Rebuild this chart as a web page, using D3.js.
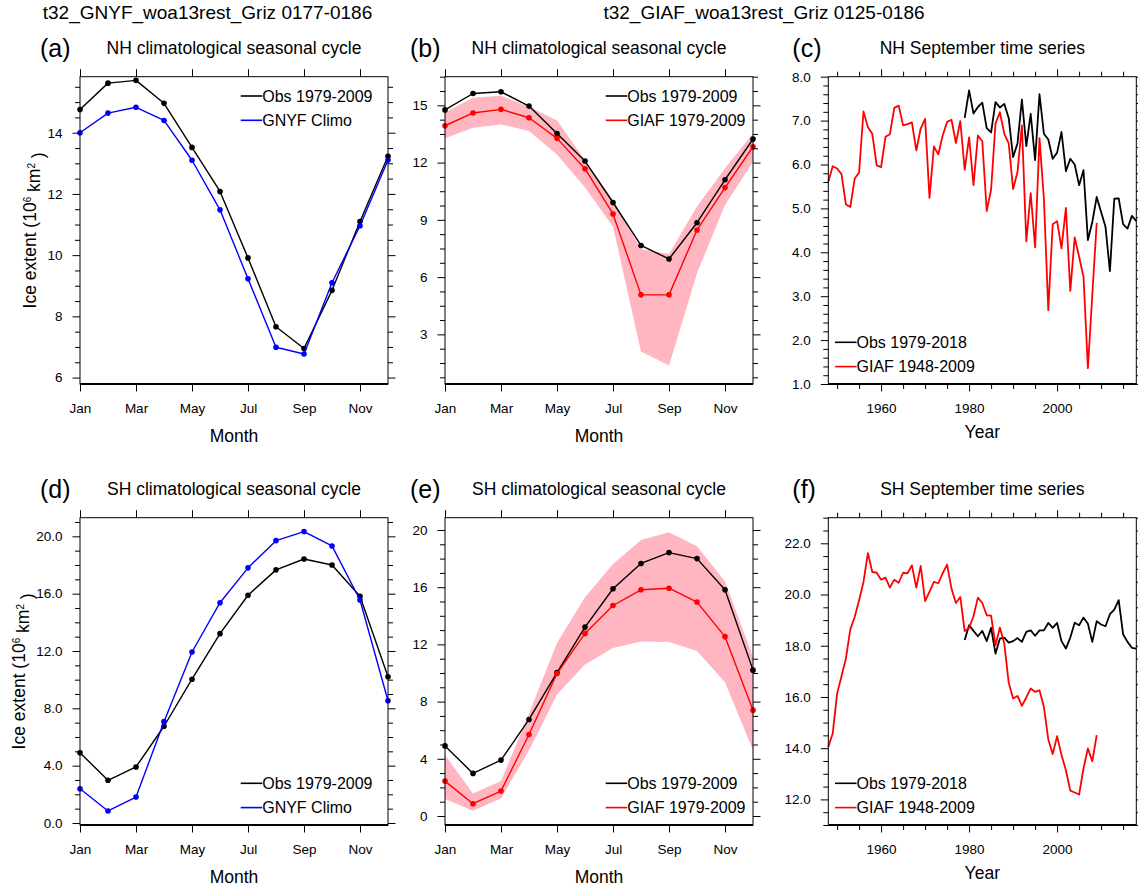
<!DOCTYPE html>
<html>
<head>
<meta charset="utf-8">
<script src="https://cdn.jsdelivr.net/npm/d3@7"></script>
<style>
body { margin: 0; background: #fff; }
text { font-family: "Liberation Sans", Arial, Helvetica, sans-serif; fill: #000; }
</style>
</head>
<body>
<div id="chart"></div>
<script>
// months
var monthNum = [1, 2, 3, 4, 5, 6, 7, 8, 9, 10, 11, 12];
var monthTicks = [1, 3, 5, 7, 9, 11];
var monthLabels = ["Jan", "Mar", "May", "Jul", "Sep", "Nov"];

// NH climatology (10^6 km^2)
var nhObs    = [14.76, 15.62, 15.71, 14.96, 13.52, 12.08, 9.91, 7.66, 6.95, 8.85, 11.10, 13.23];
var nhGnyf   = [14.00, 14.64, 14.83, 14.40, 13.10, 11.48, 9.23, 6.99, 6.77, 9.10, 10.96, 13.11];
var nhGiaf   = [13.93, 14.60, 14.79, 14.35, 13.27, 11.68, 9.31, 5.07, 5.07, 8.47, 10.69, 12.83];
var nhGiafHi = [14.62, 15.40, 15.50, 14.93, 14.20, 12.12, 10.04, 7.46, 7.21, 9.70, 11.70, 13.53];
var nhGiafLo = [13.27, 13.83, 14.00, 13.65, 12.43, 10.69, 8.64, 2.10, 1.37, 6.20, 9.78, 12.05];

// SH climatology
var shObs    = [4.90, 2.98, 3.91, 6.75, 10.03, 13.21, 15.89, 17.66, 18.42, 18.00, 15.82, 10.20];
var shGnyf   = [2.39, 0.84, 1.81, 7.07, 11.93, 15.37, 17.80, 19.70, 20.33, 19.33, 15.56, 8.53];
var shGiaf   = [2.44, 0.86, 1.74, 5.70, 9.96, 12.77, 14.72, 15.82, 15.93, 14.96, 12.54, 7.40];
var shGiafHi = [4.26, 1.58, 2.44, 7.16, 12.10, 15.30, 17.63, 19.30, 19.84, 18.86, 16.40, 11.12];
var shGiafLo = [1.19, 0.37, 1.23, 4.60, 8.49, 10.60, 11.75, 12.20, 12.16, 11.53, 9.35, 4.60];

// September time series
var giafYears = d3.range(1948, 2010);
var obsYears = d3.range(1979, 2019);
var yearTicks = [1960, 1980, 2000];

var nhSepGiaf = [5.60, 5.96, 5.91, 5.78, 5.09, 5.03, 5.68, 5.82, 7.21, 6.85,
  6.70, 5.98, 5.94, 6.63, 6.69, 7.29, 7.34, 6.89, 6.92, 6.96,
  6.32, 6.82, 7.04, 5.24, 6.41, 6.23, 6.66, 6.97, 7.02, 6.49,
  6.99, 5.88, 6.62, 5.53, 6.66, 6.53, 4.94, 5.43, 6.93, 7.19,
  6.70, 6.48, 5.44, 5.83, 6.89, 4.25, 5.35, 4.11, 6.60, 5.22,
  2.68, 4.64, 4.71, 4.09, 5.01, 3.12, 4.34, 3.90, 3.44, 1.36,
  3.03, 4.67];
var nhSepObs = [7.06, 7.69, 7.16, 7.31, 7.41, 6.83, 6.73, 7.42, 7.30, 7.38,
  7.06, 6.17, 6.48, 7.48, 6.42, 7.15, 6.10, 7.60, 6.70, 6.57,
  6.13, 6.27, 6.74, 5.85, 6.13, 6.00, 5.53, 5.87, 4.28, 4.69,
  5.26, 4.92, 4.58, 3.57, 5.22, 5.23, 4.64, 4.54, 4.83, 4.71];
var shSepGiaf = [14.05, 14.57, 16.13, 16.81, 17.50, 18.64, 19.12, 19.78, 20.49, 21.62,
  20.88, 20.85, 20.58, 20.66, 20.27, 20.58, 20.46, 20.85, 20.83, 21.14,
  20.27, 21.12, 19.74, 20.11, 20.49, 20.44, 20.83, 21.17, 20.23, 19.67,
  19.90, 18.57, 18.70, 19.15, 19.88, 19.67, 19.19, 19.18, 18.02, 18.71,
  18.08, 16.56, 15.94, 16.04, 15.65, 15.98, 16.33, 16.20, 16.26, 15.61,
  14.34, 13.77, 14.47, 13.73, 13.14, 12.34, 12.27, 12.19, 13.21, 13.99,
  13.49, 14.51];
var shSepObs = [18.22, 18.80, 18.58, 18.37, 18.58, 18.18, 18.70, 17.69, 18.28, 18.32,
  18.12, 18.18, 18.30, 18.15, 18.54, 18.60, 18.39, 18.60, 18.60, 18.89,
  18.70, 18.89, 18.18, 17.89, 18.32, 18.90, 18.80, 19.10, 18.86, 18.15,
  18.96, 18.83, 18.76, 19.23, 19.41, 19.78, 18.45, 18.15, 17.92, 17.89];

var W = 308, H = 307.3;
var BLACK = "#000", BLUE = "#0000ff", RED = "#ff0000", PINK = "#ffb6c1";

var svg = d3.select("#chart").append("svg")
  .attr("width", 1138)
  .attr("height", 888);

svg.append("text").attr("x", 207.5).attr("y", 18.5)
  .attr("text-anchor", "middle").style("font-size", "19px")
  .text("t32_GNYF_woa13rest_Griz 0177-0186");
svg.append("text").attr("x", 764).attr("y", 18.5)
  .attr("text-anchor", "middle").style("font-size", "19px")
  .text("t32_GIAF_woa13rest_Griz 0125-0186");

function range(a, b, s) {
  // tick positions inside the axis domain
  var out = [];
  for (var v = a; v <= b + 1e-9; v += s) out.push(+v.toFixed(4));
  return out;
}

function panel(p) {
  var g = svg.append("g").attr("transform", "translate(" + p.left + "," + p.top + ")");
  var x = d3.scaleLinear().domain(p.xDomain).range([0, W]);
  var y = d3.scaleLinear().domain(p.yDomain).range([H, 0]);

  if (p.band) {
    var bd = p.band.x.map(function(d, i) { return [d, p.band.lo[i], p.band.hi[i]]; });
    g.append("path").datum(bd)
      .attr("d", d3.area().x(function(d) { return x(d[0]); })
        .y0(function(d) { return y(d[1]); })
        .y1(function(d) { return y(d[2]); }))
      .attr("fill", PINK);
  }

  p.series.forEach(function(s) {
    var pts = s.x.map(function(d, i) { return [d, s.y[i]]; });
    g.append("path").datum(pts)
      .attr("d", d3.line().x(function(d) { return x(d[0]); }).y(function(d) { return y(d[1]); }))
      .attr("fill", "none")
      .attr("stroke", s.color)
      .attr("stroke-width", s.width)
      .attr("stroke-linejoin", "round");
    if (s.markers) {
      g.selectAll(null).data(pts).enter().append("circle")
        .attr("cx", function(d) { return x(d[0]); })
        .attr("cy", function(d) { return y(d[1]); })
        .attr("r", 2.8)
        .attr("fill", s.color);
    }
  });

  // axes: major + minor ticks on all four sides, all outward
  var yMinor = range(p.yMinor[0], p.yDomain[1], p.yMinor[1]).filter(function(v) {
    return v >= p.yDomain[0] && p.yMajor.indexOf(v) < 0;
  });
  var xMinor = p.xMinor ? range(p.xMinor[0], p.xDomain[1], p.xMinor[1]).filter(function(v) {
    return p.xMajor.indexOf(v) < 0;
  }) : [];

  function axis(gen, scale, vals, size, fmt, pad, tr) {
    var a = g.append("g").attr("transform", tr || null)
      .call(gen(scale).tickValues(vals).tickSizeInner(size).tickSizeOuter(0)
        .tickPadding(pad).tickFormat(fmt || ""));
    a.select(".domain").remove();
    a.selectAll("line").attr("stroke", BLACK).attr("stroke-width", 1);
    a.selectAll("text").attr("fill", BLACK).style("font-size", "13.5px")
      .style("font-family", '"Liberation Sans", Arial, sans-serif');
    return a;
  }

  axis(d3.axisLeft, y, p.yMajor, 7.5, p.yFormat, 10);
  axis(d3.axisLeft, y, yMinor, 5);
  axis(d3.axisRight, y, p.yMajor, 7.5, null, 4, "translate(" + W + ",0)");
  axis(d3.axisRight, y, yMinor, 5, null, 4, "translate(" + W + ",0)");
  axis(d3.axisBottom, x, p.xMajor, 7.5, function(d, i) { return p.xLabels[i]; }, 12, "translate(0," + H + ")");
  axis(d3.axisTop, x, p.xMajor, 7.5);
  if (xMinor.length) {
    axis(d3.axisBottom, x, xMinor, 5, null, 4, "translate(0," + H + ")");
    axis(d3.axisTop, x, xMinor, 5);
  }

  // frame
  g.append("rect").attr("width", W).attr("height", H)
    .attr("fill", "none").attr("stroke", BLACK).attr("stroke-width", 1);
  g.append("line").attr("x1", 0).attr("x2", W).attr("y1", H).attr("y2", H)
    .attr("stroke", BLACK).attr("stroke-width", 2.2);

  // titles
  g.append("text").attr("x", p.labelX).attr("y", -20)
    .style("font-size", "25px").text(p.label);
  g.append("text").attr("x", W / 2).attr("y", -22.5)
    .attr("text-anchor", "middle").style("font-size", "17.5px").text(p.title);
  g.append("text").attr("x", W / 2).attr("y", H + p.xTitleY)
    .attr("text-anchor", "middle").style("font-size", "17.5px").text(p.xTitle);

  if (p.yTitleX) {
    var yt = g.append("text")
      .attr("transform", "translate(" + p.yTitleX + "," + (H / 2) + ") rotate(-90)")
      .attr("text-anchor", "middle").style("font-size", "17.5px");
    yt.append("tspan").text("Ice extent (10");
    yt.append("tspan").attr("dy", "-0.55em").style("font-size", "10px").text("6");
    yt.append("tspan").attr("dy", "0.55em").text(" km");
    yt.append("tspan").attr("dy", "-0.55em").style("font-size", "10px").text("2");
    yt.append("tspan").attr("dy", "0.55em").text(" )");
  }

  // legend
  p.legend.items.forEach(function(it, i) {
    var ly = p.legend.y + i * 24.3;
    g.append("line").attr("x1", p.legend.x).attr("x2", p.legend.x + 21.5)
      .attr("y1", ly).attr("y2", ly)
      .attr("stroke", it.color).attr("stroke-width", 1.6);
    g.append("text").attr("x", p.legend.x + 21.5).attr("y", ly + 5.6)
      .style("font-size", "16px").text(it.text);
  });
}

var monthAxis = { xDomain: [1, 12], xMajor: monthTicks, xLabels: monthLabels, xTitle: "Month", xTitleY: 57.7 };
var yearAxis = { xDomain: [1948, 2018], xMajor: yearTicks, xLabels: ["1960", "1980", "2000"],
  xMinor: [1950, 5], xTitle: "Year", xTitleY: 54 };

function merge(a, b) { return Object.assign({}, a, b); }

var col = [80, 445, 828.3], row = [76.7, 517.7];
var f1 = d3.format(".1f"), f0 = d3.format("d");

panel(merge(monthAxis, {
  left: col[0], top: row[0], label: "(a)", labelX: -40, title: "NH climatological seasonal cycle",
  yDomain: [5.79, 15.83], yMajor: [6, 8, 10, 12, 14], yMinor: [6, 0.5], yFormat: f0, yTitleX: -44,
  series: [
    { x: monthNum, y: nhObs, color: BLACK, width: 1.4, markers: true },
    { x: monthNum, y: nhGnyf, color: BLUE, width: 1.4, markers: true }
  ],
  legend: { x: 160.7, y: 19.3, items: [{ text: "Obs 1979-2009", color: BLACK }, { text: "GNYF Climo", color: BLUE }] }
}));

panel(merge(monthAxis, {
  left: col[1], top: row[0], label: "(b)", labelX: -35, title: "NH climatological seasonal cycle",
  yDomain: [0.4, 16.5], yMajor: [3, 6, 9, 12, 15], yMinor: [0.75, 0.75], yFormat: f0,
  band: { x: monthNum, lo: nhGiafLo, hi: nhGiafHi },
  series: [
    { x: monthNum, y: nhObs, color: BLACK, width: 1.4, markers: true },
    { x: monthNum, y: nhGiaf, color: RED, width: 1.4, markers: true }
  ],
  legend: { x: 160.7, y: 19.3, items: [{ text: "Obs 1979-2009", color: BLACK }, { text: "GIAF 1979-2009", color: RED }] }
}));

panel(merge(yearAxis, {
  left: col[2], top: row[0], label: "(c)", labelX: -36, title: "NH September time series",
  yDomain: [1, 8], yMajor: [1, 2, 3, 4, 5, 6, 7, 8], yMinor: [1, 0.2], yFormat: f1,
  series: [
    { x: obsYears, y: nhSepObs, color: BLACK, width: 1.8 },
    { x: giafYears, y: nhSepGiaf, color: RED, width: 1.8 }
  ],
  legend: { x: 6.7, y: 265.6, items: [{ text: "Obs 1979-2018", color: BLACK }, { text: "GIAF 1948-2009", color: RED }] }
}));

panel(merge(monthAxis, {
  left: col[0], top: row[1], label: "(d)", labelX: -40, title: "SH climatological seasonal cycle",
  yDomain: [-0.14, 21.3], yMajor: [0, 4, 8, 12, 16, 20], yMinor: [0, 1], yFormat: f1, yTitleX: -55,
  series: [
    { x: monthNum, y: shObs, color: BLACK, width: 1.4, markers: true },
    { x: monthNum, y: shGnyf, color: BLUE, width: 1.4, markers: true }
  ],
  legend: { x: 160.7, y: 265.6, items: [{ text: "Obs 1979-2009", color: BLACK }, { text: "GNYF Climo", color: BLUE }] }
}));

panel(merge(monthAxis, {
  left: col[1], top: row[1], label: "(e)", labelX: -35, title: "SH climatological seasonal cycle",
  yDomain: [-0.63, 20.86], yMajor: [0, 4, 8, 12, 16, 20], yMinor: [0, 1], yFormat: f0,
  band: { x: monthNum, lo: shGiafLo, hi: shGiafHi },
  series: [
    { x: monthNum, y: shObs, color: BLACK, width: 1.4, markers: true },
    { x: monthNum, y: shGiaf, color: RED, width: 1.4, markers: true }
  ],
  legend: { x: 160.7, y: 265.6, items: [{ text: "Obs 1979-2009", color: BLACK }, { text: "GIAF 1979-2009", color: RED }] }
}));

panel(merge(yearAxis, {
  left: col[2], top: row[1], label: "(f)", labelX: -36, title: "SH September time series",
  yDomain: [11, 23], yMajor: [12, 14, 16, 18, 20, 22], yMinor: [11, 0.5], yFormat: f1,
  series: [
    { x: obsYears, y: shSepObs, color: BLACK, width: 1.8 },
    { x: giafYears, y: shSepGiaf, color: RED, width: 1.8 }
  ],
  legend: { x: 6.7, y: 265.6, items: [{ text: "Obs 1979-2018", color: BLACK }, { text: "GIAF 1948-2009", color: RED }] }
}));
</script>
</body>
</html>
